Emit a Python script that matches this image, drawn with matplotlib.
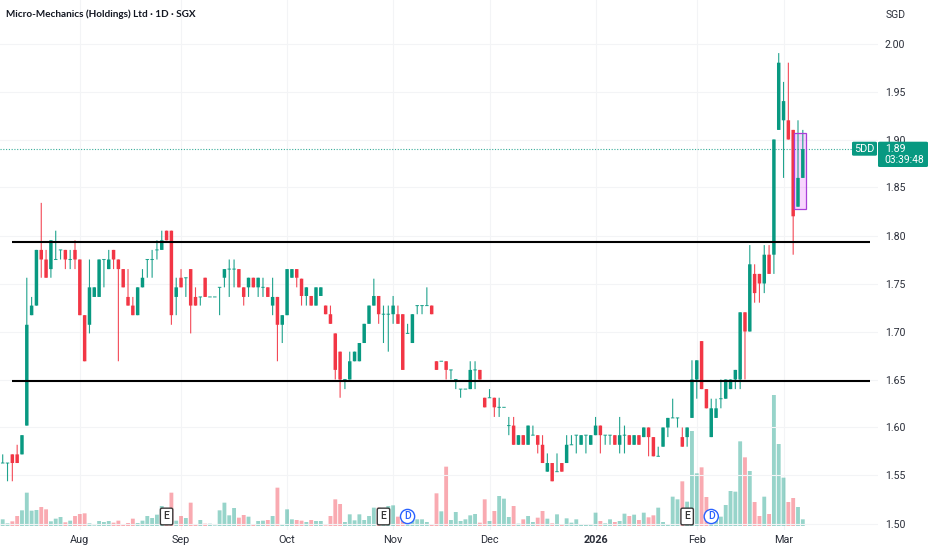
import matplotlib
matplotlib.use("Agg")
import matplotlib.pyplot as plt
from matplotlib.patches import FancyBboxPatch, Rectangle

opens = [1.563,1.563,1.572,1.572,1.572,1.602,1.717,1.727,1.785,1.775,
 1.765,1.775,1.785,1.785,1.775,1.785,1.775,1.717,1.707,1.736,
 1.736,1.775,1.765,1.785,1.775,1.765,1.736,1.727,1.717,1.746,
 1.775,1.775,1.785,1.785,1.805,1.805,1.736,1.756,1.756,1.765,
 1.736,1.736,1.756,1.736,1.736,1.746,1.756,1.765,1.765,1.765,
 1.746,1.746,1.756,1.746,1.746,1.746,1.727,1.736,1.707,1.717,
 1.756,1.765,1.755,1.737,1.737,1.727,1.737,1.727,1.718,1.698,
 1.679,1.650,1.650,1.669,1.669,1.688,1.708,1.727,1.737,1.718,
 1.718,1.718,1.718,1.718,1.698,1.688,1.727,1.727,1.727,1.727,
 1.669,1.669,1.669,1.660,1.650,1.640,1.640,1.640,1.660,1.660,
 1.631,1.631,1.631,1.621,1.621,1.602,1.602,1.582,1.592,1.582,
 1.592,1.592,1.582,1.554,1.563,1.554,1.563,1.563,1.582,1.592,
 1.582,1.592,1.582,1.592,1.602,1.592,1.592,1.592,1.582,1.592,
 1.592,1.582,1.592,1.59,1.60,1.59,1.57,1.58,1.60,1.61,
 1.61,1.59,1.59,1.61,1.65,1.69,1.64,1.59,1.61,1.63,
 1.63,1.64,1.65,1.65,1.72,1.70,1.76,1.76,1.75,1.78,
 1.78,1.91,1.92,1.92,1.91,1.83,1.86]
closes = [1.563,1.563,1.563,1.563,1.592,1.707,1.727,1.785,1.775,1.756,
 1.795,1.775,1.785,1.775,1.775,1.775,1.717,1.669,1.746,1.746,
 1.775,1.775,1.775,1.775,1.765,1.746,1.727,1.717,1.746,1.756,
 1.775,1.775,1.785,1.795,1.795,1.717,1.746,1.746,1.756,1.727,
 1.727,1.736,1.736,1.736,1.736,1.746,1.765,1.765,1.765,1.746,
 1.736,1.756,1.746,1.756,1.746,1.736,1.736,1.707,1.717,1.765,
 1.765,1.756,1.737,1.746,1.727,1.746,1.746,1.718,1.708,1.660,
 1.650,1.650,1.669,1.679,1.688,1.708,1.727,1.737,1.718,1.718,
 1.718,1.727,1.708,1.660,1.698,1.718,1.727,1.727,1.727,1.718,
 1.660,1.669,1.660,1.660,1.650,1.640,1.640,1.660,1.660,1.650,
 1.621,1.631,1.621,1.621,1.621,1.602,1.582,1.592,1.582,1.602,
 1.592,1.582,1.563,1.563,1.544,1.554,1.554,1.582,1.582,1.592,
 1.592,1.592,1.592,1.602,1.592,1.592,1.592,1.582,1.592,1.592,
 1.582,1.592,1.582,1.60,1.59,1.57,1.57,1.60,1.61,1.61,
 1.61,1.58,1.60,1.65,1.67,1.64,1.62,1.62,1.62,1.63,
 1.65,1.65,1.66,1.72,1.70,1.77,1.74,1.75,1.78,1.76,
 1.90,1.98,1.94,1.90,1.82,1.86,1.89]
highs = [1.572,1.563,1.572,1.582,1.592,1.756,1.736,1.785,1.834,1.785,
 1.795,1.805,1.785,1.785,1.785,1.795,1.775,1.717,1.775,1.746,
 1.775,1.775,1.785,1.785,1.775,1.765,1.765,1.736,1.746,1.765,
 1.775,1.785,1.795,1.805,1.805,1.805,1.756,1.765,1.756,1.765,
 1.746,1.736,1.756,1.736,1.736,1.746,1.765,1.775,1.775,1.765,
 1.746,1.756,1.756,1.756,1.756,1.746,1.756,1.736,1.717,1.765,
 1.765,1.765,1.755,1.746,1.737,1.746,1.746,1.727,1.727,1.698,
 1.679,1.650,1.679,1.679,1.688,1.708,1.727,1.755,1.737,1.727,
 1.727,1.737,1.727,1.718,1.708,1.718,1.727,1.727,1.746,1.727,
 1.669,1.669,1.669,1.660,1.650,1.640,1.640,1.669,1.669,1.660,
 1.631,1.640,1.631,1.631,1.621,1.611,1.611,1.592,1.592,1.602,
 1.602,1.592,1.592,1.573,1.563,1.573,1.563,1.592,1.592,1.592,
 1.592,1.592,1.592,1.611,1.602,1.592,1.592,1.592,1.611,1.602,
 1.592,1.592,1.592,1.60,1.60,1.59,1.58,1.60,1.61,1.63,
 1.61,1.60,1.60,1.67,1.67,1.69,1.64,1.63,1.63,1.65,
 1.65,1.65,1.66,1.72,1.72,1.79,1.77,1.76,1.79,1.79,
 1.90,1.99,1.96,1.98,1.91,1.92,1.91]
lows = [1.563,1.544,1.544,1.563,1.572,1.602,1.717,1.727,1.756,1.756,
 1.756,1.775,1.775,1.765,1.765,1.765,1.717,1.669,1.698,1.736,
 1.736,1.746,1.765,1.765,1.669,1.746,1.727,1.717,1.717,1.746,
 1.756,1.756,1.775,1.785,1.795,1.707,1.717,1.746,1.736,1.698,
 1.727,1.727,1.736,1.736,1.736,1.717,1.746,1.736,1.746,1.746,
 1.727,1.736,1.746,1.736,1.736,1.736,1.717,1.669,1.688,1.717,
 1.756,1.746,1.727,1.727,1.727,1.727,1.737,1.718,1.708,1.650,
 1.631,1.640,1.650,1.669,1.669,1.688,1.708,1.727,1.708,1.688,
 1.679,1.708,1.708,1.660,1.698,1.688,1.718,1.718,1.727,1.718,
 1.660,1.669,1.650,1.650,1.640,1.631,1.640,1.640,1.640,1.650,
 1.621,1.631,1.611,1.611,1.621,1.592,1.582,1.582,1.582,1.582,
 1.592,1.573,1.563,1.554,1.544,1.554,1.554,1.563,1.582,1.573,
 1.582,1.573,1.582,1.592,1.573,1.582,1.582,1.582,1.573,1.573,
 1.582,1.582,1.582,1.59,1.57,1.57,1.57,1.58,1.59,1.61,
 1.60,1.58,1.58,1.61,1.63,1.64,1.62,1.59,1.61,1.62,
 1.63,1.64,1.64,1.64,1.65,1.70,1.73,1.73,1.74,1.76,
 1.76,1.91,1.86,1.90,1.78,1.83,1.86]
volumes = [20,8,14,30,47,100,46,48,57,50,
 14,22,27,11,16,30,36,38,8,2,
 15,12,15,10,16,3,9,22,9,16,
 30,24,34,60,5,100,16,30,24,70,
 6,18,7,7,2,47,70,32,54,25,
 33,28,6,15,16,18,30,115,5,50,
 20,18,16,12,18,15,15,2,30,80,
 66,12,35,17,35,18,30,55,55,40,
 60,62,28,15,5,18,20,20,12,5,
 98,44,178,18,42,15,20,32,36,10,
 80,15,45,90,82,27,60,7,20,30,
 12,25,45,22,8,35,5,23,10,20,
 5,5,5,40,15,8,20,12,15,37,
 30,34,18,40,26,32,55,12,5,88,
 80,134,73,285,158,176,87,15,20,28,
 63,105,103,254,206,165,72,30,88,36,
 393,246,145,72,84,57,20]

month_ticks = [16, 37, 59, 81, 101, 123, 144, 162]
month_labels = ["Aug", "Sep", "Oct", "Nov", "Dec", "2026", "Feb", "Mar"]
price_ticks = [1.50, 1.55, 1.60, 1.65, 1.70, 1.75, 1.80, 1.85, 1.90, 1.95, 2.00]
earnings_idx = [34, 79, 142]
dividend_idx = [84, 147]
support_levels = [1.7935, 1.6485]
last_price = 1.89

GREEN = "#089981"
RED = "#F23645"
W, H = 932, 550
XO, XS = 2.7, 4.82   # pixel of first candle, pixels per candle
AX_R, AX_B = 878, 530
FONT = "Roboto"

fig = plt.figure(figsize=(W / 100, H / 100), dpi=100, facecolor="white")
ax_v = fig.add_axes([0, 1 - AX_B / H, AX_R / W, AX_B / H])
ax = fig.add_axes([0, 1 - AX_B / H, AX_R / W, AX_B / H], sharex=ax_v)
ax.patch.set_visible(False)
ax_v.set_zorder(1)
ax.set_zorder(2)

xlim = (-XO / XS, (AX_R - XO) / XS)
ax.set_xlim(*xlim)
ax.set_ylim(2 - (AX_B - 43.5) / 960, 2 + 43.5 / 960)

# volume
ax_v.set_ylim(-12, 526 * 3)
vcols = [GREEN if c >= o else RED for o, c in zip(opens, closes)]
for b in ax_v.bar(range(len(volumes)), volumes, width=0.8, color=vcols, alpha=0.42, linewidth=0):
    b.set_snap(False)
ax_v.set_yticks([])
ax_v.set_xticks(month_ticks)
ax_v.grid(axis="x", color="#F3F4F6", lw=0.8)
ax_v.set_axisbelow(True)
for s in ax_v.spines.values():
    s.set_visible(False)
ax_v.tick_params(axis="x", length=0, labelbottom=False)

# candles
for i, (o, h, l, c) in enumerate(zip(opens, highs, lows, closes)):
    col = GREEN if c >= o else RED
    ax.vlines(i, l, h, color=col, lw=0.8, alpha=0.9, zorder=3).set_snap(False)
    if o == c:
        ax.hlines(c, i - 0.36, i + 0.36, color=col, lw=0.75, alpha=0.85, zorder=3).set_snap(False)
    else:
        for b in ax.bar(i, abs(c - o), bottom=min(o, c), width=0.72, color=col, linewidth=0, zorder=4):
            b.set_snap(False)

# drawings
rect_x0, rect_x1 = 164.2, 166.7
rect_y0, rect_y1 = 1.8275, 1.907
ax.add_patch(Rectangle((rect_x0, rect_y0), rect_x1 - rect_x0, rect_y1 - rect_y0,
                       facecolor="#E040FB", alpha=0.22, edgecolor="none", zorder=2))
ax.add_patch(Rectangle((rect_x0, rect_y0), rect_x1 - rect_x0, rect_y1 - rect_y0,
                       facecolor="none", edgecolor="#A93FD8", lw=0.9, zorder=5))
x_line0 = (12 - XO) / XS
x_line1 = (870 - XO) / XS
for lv in support_levels:
    ax.plot([x_line0, x_line1], [lv, lv], color="black", lw=1.5, zorder=6, solid_capstyle="butt")
ax.plot([xlim[0], (852 - XO) / XS], [last_price, last_price], color=GREEN, lw=0.8,
        ls=(0, (1, 1.5)), alpha=0.8, zorder=3)

# axes text
ax.yaxis.tick_right()
ax.set_yticks(price_ticks)
ax.set_yticklabels([f"{p:.2f}" for p in price_ticks], fontsize=7.6, color="#2A2E39", family=FONT)
ax.tick_params(axis="y", length=0, pad=5)
ax.grid(axis="y", color="#F3F4F6", lw=0.8, zorder=0)
ax.set_xticks(month_ticks)
ax.set_xticklabels(month_labels, fontsize=7.8, color="#2A2E39", family=FONT)
ax.get_xticklabels()[5].set_fontweight("bold")
ax.tick_params(axis="x", length=0, pad=3.5)
for s in ax.spines.values():
    s.set_visible(False)

# event markers
evt_y = 2 - (516.5 - 43.5) / 960
for i in earnings_idx:
    ax.text(i, evt_y, "E", ha="center", va="center", fontsize=7.5, color="#333333", family=FONT,
            fontweight="medium", zorder=8,
            bbox=dict(boxstyle="round,pad=0.32,rounding_size=0.15", fc="white", ec="#3A3A3A", lw=1.0))
for i in dividend_idx:
    ax.text(i, evt_y, "D", ha="center", va="center", fontsize=7.5, color="#2962FF", family=FONT,
            fontweight="medium", zorder=8,
            bbox=dict(boxstyle="circle,pad=0.2", fc="white", ec="#2962FF", lw=1.0))

# header
fig.text(6.5 / W, 1 - 14 / H, "Micro-Mechanics (Holdings) Ltd · 1D · SGX", fontsize=7.2, fontweight="bold",
         family="Lato", color="#131722", va="center", ha="left")
fig.text(896 / W, 1 - 15 / H, "SGD", fontsize=7.5, family=FONT, color="#2A2E39", va="center", ha="center")

# price labels on top
def box(x0, y0, x1, y1):
    p = FancyBboxPatch((x0 / W, 1 - y1 / H), (x1 - x0) / W, (y1 - y0) / H,
                       boxstyle="round,pad=0,rounding_size=0.002", fc=GREEN, ec="none",
                       transform=fig.transFigure, zorder=5)
    fig.add_artist(p)

box(852, 141.7, 877, 155.7)
box(878, 141.7, 928, 167)
fig.text(864.5 / W, 1 - 149 / H, "5DD", fontsize=7.8, color="white", family=FONT, ha="center", va="center", zorder=6)
fig.text(885 / W, 1 - 149 / H, f"{last_price:.2f}", fontsize=7.6, color="white", family=FONT, ha="left", va="center", zorder=6)
fig.text(884 / W, 1 - 160.5 / H, "03:39:48", fontsize=7.4, color="white", family=FONT, ha="left", va="center", zorder=6)

fig.savefig("out.png", dpi=100)
